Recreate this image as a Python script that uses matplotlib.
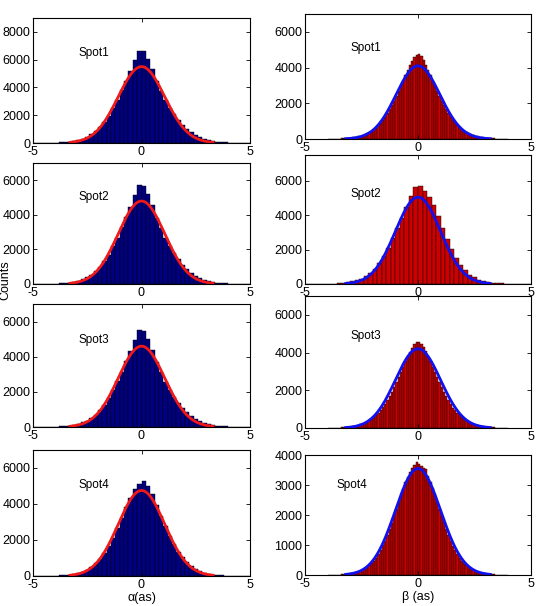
import numpy as np
import matplotlib
matplotlib.use("Agg")
import matplotlib.pyplot as plt

plt.rcParams['font.family'] = ['Liberation Sans', 'DejaVu Sans']
plt.rcParams['axes.unicode_minus'] = False

# ---- data ----
spots = ["Spot1", "Spot2", "Spot3", "Spot4"]

# alpha histograms: bins of 0.2 from -5 to 5
alpha_bin = 0.2
alpha_counts = [
    [0, 2, 5, 9, 15, 25, 40, 62, 95, 145, 215, 310, 440, 620, 850, 1150, 1520, 1980, 2520, 3120,
     3800, 4500, 5200, 5950, 6650, 6600, 6050, 5300, 4450, 3750, 3100, 2550, 2060, 1650, 1300,
     1000, 760, 560, 400, 285, 195, 130, 88, 58, 38, 24, 14, 8, 4, 1],
    [0, 2, 4, 8, 13, 21, 34, 53, 82, 125, 185, 265, 380, 535, 730, 990, 1310, 1700, 2170, 2690,
     3270, 3880, 4480, 5120, 5700, 5650, 5200, 4560, 3830, 3220, 2660, 2190, 1770, 1420, 1120,
     860, 655, 480, 345, 245, 168, 112, 76, 50, 33, 21, 12, 7, 3, 1],
    [0, 2, 4, 7, 12, 21, 33, 51, 79, 120, 178, 257, 365, 515, 705, 955, 1260, 1640, 2090, 2590,
     3150, 3740, 4320, 4940, 5500, 5480, 5020, 4400, 3690, 3110, 2570, 2120, 1710, 1370, 1080,
     830, 630, 465, 330, 235, 160, 108, 73, 48, 31, 20, 12, 7, 3, 1],
    [0, 1, 3, 6, 10, 17, 28, 45, 72, 112, 170, 250, 360, 510, 710, 960, 1280, 1670, 2130, 2650,
     3220, 3810, 4360, 4820, 5100, 5300, 5000, 4550, 3950, 3330, 2760, 2230, 1760, 1360, 1030,
     760, 550, 390, 270, 182, 120, 78, 50, 32, 20, 12, 7, 4, 2, 1],
]

# beta histograms: bins of 0.1 from -4 to 4 (Spot2 uses 0.2 from -5 to 5)
beta_bin = [0.1, 0.2, 0.1, 0.1]
beta_start = [-4.0, -5.0, -4.0, -4.0]
beta_counts = [
    [5, 7, 10, 14, 18, 24, 31, 40, 51, 64, 80, 100, 122, 150, 185, 225, 270, 325, 390, 465,
     555, 660, 780, 920, 1070, 1240, 1440, 1660, 1890, 2140, 2400, 2680, 2960, 3260, 3560, 3850,
     4120, 4380, 4600, 4720,
     4780, 4650, 4420, 4150, 3880, 3580, 3270, 2970, 2680, 2410, 2150, 1900, 1670, 1450, 1250,
     1080, 925, 785, 665, 560, 470, 392, 326, 270, 224, 184, 150, 121, 98, 79, 63, 50, 39, 30,
     23, 17, 13, 9, 6, 4],
    [0, 1, 3, 6, 10, 17, 28, 44, 68, 102, 150, 215, 305, 460, 650, 900, 1220, 1620, 2100, 2650,
     3250, 3850, 4450, 5090, 5640, 5700, 5400, 5030, 4590, 3950, 3250, 2600, 2020, 1520, 1110,
     790, 550, 380, 255, 170, 112, 74, 48, 31, 20, 12, 7, 4, 2, 1],
    [4, 6, 9, 13, 17, 23, 30, 39, 50, 63, 79, 99, 122, 150, 186, 228, 276, 333, 400, 478,
     570, 678, 800, 940, 1095, 1270, 1470, 1690, 1920, 2170, 2430, 2700, 2980, 3260, 3540, 3800,
     4040, 4260, 4430, 4540,
     4560, 4480, 4300, 4060, 3810, 3540, 3260, 2970, 2690, 2420, 2160, 1910, 1680, 1460, 1260,
     1085, 930, 790, 668, 562, 470, 392, 325, 268, 221, 181, 148, 120, 97, 78, 62, 49, 38, 29,
     22, 16, 12, 8, 5, 3],
    [4, 5, 7, 9, 12, 16, 21, 27, 35, 45, 57, 72, 90, 112, 140, 172, 212, 262, 322, 395,
     480, 580, 700, 835, 985, 1150, 1330, 1530, 1740, 1960, 2190, 2420, 2650, 2880, 3090, 3280,
     3440, 3580, 3680, 3760,
     3700, 3620, 3560, 3520, 3300, 3100, 2900, 2680, 2450, 2210, 1980, 1760, 1545, 1340, 1150,
     980, 830, 695, 578, 478, 392, 320, 260, 210, 170, 137, 110, 88, 70, 55, 43, 34, 26, 20,
     15, 11, 8, 6, 4, 3],
]

# gaussian fits (amplitude, sigma)
alpha_fit = [(5500, 1.07), (4800, 1.07), (4600, 1.07), (4750, 1.07)]
beta_fit = [(4100, 0.97), (5050, 1.0), (4200, 1.0), (3550, 1.0)]

alpha_ylim = [9000, 7000, 7000, 7000]
beta_ylim = [7000, 7500, 7000, 4000]
beta_yticks = [[0, 2000, 4000, 6000], [0, 2000, 4000, 6000], [0, 2000, 4000, 6000],
               [0, 1000, 2000, 3000, 4000]]

# ---- layout (pixels of a 537x606 figure) ----
W, H = 537, 606
left_rows = [(18, 143), (163, 284), (304, 427), (450, 576)]
right_rows = [(14, 139), (155, 284), (296, 428), (455, 575)]
text_y_left = [0.72, 0.72, 0.71, 0.72]
text_y_right = [0.73, 0.70, 0.70, 0.75]


def gauss(x, a, s):
    return a * np.exp(-x ** 2 / (2 * s ** 2))


def style(ax, ylim, yticks):
    ax.set_xlim(-5, 5)
    ax.set_ylim(0, ylim)
    ax.set_xticks([-5, 0, 5])
    ax.set_yticks(yticks)
    ax.tick_params(direction='in', length=3, width=0.6, top=True, right=True,
                   labelsize=9, pad=2)
    for sp in ax.spines.values():
        sp.set_linewidth(0.8)


fig = plt.figure(figsize=(W / 100, H / 100), dpi=100)

for i in range(4):
    # alpha column
    t, b = left_rows[i]
    ax = fig.add_axes([33 / W, 1 - b / H, 217 / W, (b - t) / H])
    counts = np.array(alpha_counts[i])
    centers = -5 + alpha_bin * (np.arange(len(counts)) + 0.5)
    ax.bar(centers, counts, width=alpha_bin, color='#000080', edgecolor='black', linewidth=0.3)
    xf = np.linspace(-3.3, 3.3, 200)
    ax.plot(xf, gauss(xf, *alpha_fit[i]), color='#f01818', lw=2)
    style(ax, alpha_ylim[i], list(range(0, alpha_ylim[i], 2000)))
    ax.text(0.21, text_y_left[i], spots[i], transform=ax.transAxes, fontsize=8.5, va='center')
    if i == 3:
        ax.set_xlabel('α(as)', fontsize=9, labelpad=1)

    # beta column
    t, b = right_rows[i]
    ax = fig.add_axes([305 / W, 1 - b / H, 226 / W, (b - t) / H])
    counts = np.array(beta_counts[i])
    centers = beta_start[i] + beta_bin[i] * (np.arange(len(counts)) + 0.5)
    ax.bar(centers, counts, width=beta_bin[i], color='#cc0000', edgecolor='black', linewidth=0.3)
    xf = np.linspace(-3.2, 3.2, 200)
    ax.plot(xf, gauss(xf, *beta_fit[i]), color='#1010f0', lw=2)
    style(ax, beta_ylim[i], beta_yticks[i])
    ax.text(0.2 if i < 3 else 0.14, text_y_right[i], spots[i], transform=ax.transAxes,
            fontsize=8.5, va='center')
    if i == 3:
        ax.set_xlabel('β (as)', fontsize=9, labelpad=1)

fig.text(5 / W, 1 - 280 / H, 'Counts', rotation=90, fontsize=9, ha='center', va='center')

fig.savefig('out.png', dpi=100)
